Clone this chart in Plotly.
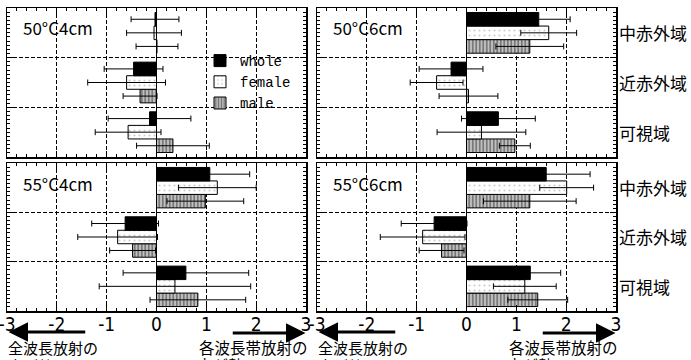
import plotly.graph_objects as go

# ---------------- data ----------------
regions = ["可視域", "近赤外域", "中赤外域"]          # bottom -> top
panels = ["50°C4cm", "50°C6cm", "55°C4cm", "55°C6cm"]
series = ["male", "female", "whole"]                   # bottom -> top inside a group

whole_50_4 = [-0.14, -0.46, -0.03]
whole_50_4_err = [0.83, 0.59, 0.48]
female_50_4 = [-0.57, -0.60, -0.05]
female_50_4_err = [0.66, 0.78, 0.55]
male_50_4 = [0.33, -0.33, 0.01]
male_50_4_err = [0.73, 0.34, 0.42]

whole_50_6 = [0.64, -0.31, 1.45]
whole_50_6_err = [0.74, 0.64, 0.63]
female_50_6 = [0.30, -0.60, 1.65]
female_50_6_err = [0.89, 0.53, 0.56]
male_50_6 = [0.97, 0.04, 1.27]
male_50_6_err = [0.31, 0.59, 0.68]

whole_55_4 = [0.59, -0.63, 1.07]
whole_55_4_err = [1.26, 0.67, 0.80]
female_55_4 = [0.37, -0.78, 1.22]
female_55_4_err = [1.52, 0.80, 0.78]
male_55_4 = [0.83, -0.48, 0.98]
male_55_4_err = [0.96, 0.46, 0.77]

whole_55_6 = [1.28, -0.65, 1.60]
whole_55_6_err = [0.61, 0.66, 0.88]
female_55_6 = [1.17, -0.88, 2.01]
female_55_6_err = [0.63, 0.85, 0.54]
male_55_6 = [1.43, -0.50, 1.27]
male_55_6_err = [0.60, 0.45, 0.93]

x_ticks = [-3, -2, -1, 0, 1, 2, 3]
x_tick_labels = ["-3", "-2", "-1", "0", "1", "2", "3"]
left_note = ["全波長放射の", "方が勢い"]
right_note = ["各波長帯放射の", "方が勢い"]

panel_data = {
    "50°C4cm": {"whole": (whole_50_4, whole_50_4_err), "female": (female_50_4, female_50_4_err), "male": (male_50_4, male_50_4_err)},
    "50°C6cm": {"whole": (whole_50_6, whole_50_6_err), "female": (female_50_6, female_50_6_err), "male": (male_50_6, male_50_6_err)},
    "55°C4cm": {"whole": (whole_55_4, whole_55_4_err), "female": (female_55_4, female_55_4_err), "male": (male_55_4, male_55_4_err)},
    "55°C6cm": {"whole": (whole_55_6, whole_55_6_err), "female": (female_55_6, female_55_6_err), "male": (male_55_6, male_55_6_err)},
}

# ---------------- styles ----------------
W, H = 691, 360
NUM_FONT = "DejaVu Sans Condensed, Liberation Sans Narrow, sans-serif"
JP_FONT = "Noto Sans CJK JP, sans-serif"
MONO_FONT = "Liberation Mono, DejaVu Sans Mono, monospace"

styles = {
    "whole": dict(color="black", line=dict(color="black", width=1)),
    "female": dict(color="white", line=dict(color="black", width=1),
                   pattern=dict(shape=".", fgcolor="#999999", bgcolor="white", size=5, solidity=0.15)),
    "male": dict(color="#bbbbbb", line=dict(color="black", width=1),
                 pattern=dict(shape="|", fgcolor="#222222", bgcolor="#c0c0c0", size=3.5, solidity=0.45)),
}

# pixel geometry of panels
x_doms = [(7, 306), (317, 616)]
y_doms = [(8, 157), (163, 311)]

def px_x(p):
    return p / W

def px_y(p):
    return 1 - p / H

fig = go.Figure()
ypos = list(range(len(regions)))

for i, pname in enumerate(panels):
    n = "" if i == 0 else str(i + 1)
    for s in series:
        vals, errs = panel_data[pname][s]
        fig.add_trace(go.Bar(
            x=vals, y=ypos, orientation="h", name=s,
            marker=styles[s],
            error_x=dict(type="data", array=errs, visible=True, color="black", thickness=1, width=3),
            xaxis="x" + n, yaxis="y" + n,
            showlegend=(i == 0),
        ))

axis_common = dict(
    showline=True, linecolor="black", linewidth=1.5, mirror="ticks",
    ticks="inside", tickcolor="black", tickwidth=1, automargin=False,
)

for i, pname in enumerate(panels):
    n = "" if i == 0 else str(i + 1)
    col, row = i % 2, i // 2
    xd = x_doms[col]
    yd = y_doms[row]
    fig.update_layout(**{
        "xaxis" + n: dict(
            axis_common,
            domain=[px_x(xd[0]), px_x(xd[1])],
            anchor="y" + n,
            range=[-3, 3], tickvals=x_ticks, ticktext=x_tick_labels, ticklen=6,
            showticklabels=(row == 1), ticklabeloverflow="allow", ticklabelstandoff=-4,
            tickfont=dict(family=NUM_FONT, size=19, color="black"),
            showgrid=True, gridcolor="black", gridwidth=1, griddash="4px,2px",
            zeroline=True, zerolinecolor="black", zerolinewidth=1,
            minor=dict(dtick=0.2, ticklen=3, ticks="inside", tickcolor="black", showgrid=False),
            fixedrange=True,
        ),
        "yaxis" + n: dict(
            axis_common,
            domain=[px_y(yd[1]), px_y(yd[0])],
            anchor="x" + n,
            range=[-0.5, len(regions) - 0.5],
            tickvals=[k + 0.5 for k in ypos[:-1]], ticklen=6,
            showticklabels=False,
            showgrid=True, gridcolor="black", gridwidth=1, griddash="4px,2px",
            zeroline=False,
            minor=dict(tick0=-0.5, dtick=1 / 12, ticklen=3, ticks="inside", tickcolor="black", showgrid=False),
            fixedrange=True,
        ),
    })

annotations = []
# panel titles
for i, pname in enumerate(panels):
    col, row = i % 2, i // 2
    annotations.append(dict(
        text=pname, xref="paper", yref="paper",
        x=px_x(x_doms[col][0] + 14), y=px_y(y_doms[row][0] + 20),
        xanchor="left", yanchor="middle", showarrow=False,
        font=dict(family=JP_FONT, size=17, color="black"),
    ))
# region labels right of right panels
for i in (1, 3):
    n = str(i + 1)
    for k, r in enumerate(regions):
        annotations.append(dict(
            text=r, xref="paper", yref="y" + n, x=px_x(617), y=ypos[k],
            xanchor="left", yanchor="middle", showarrow=False,
            font=dict(family=JP_FONT, size=17, color="black"),
        ))
# arrows and notes under bottom panels
for i in (2, 3):
    n = str(i + 1)
    annotations.append(dict(
        xref="x" + n, yref="paper", axref="x" + n, ayref="pixel",
        x=-2.97, y=px_y(332), ax=-1.4, ay=0, text="", showarrow=True,
        arrowhead=2, arrowsize=1.3, arrowwidth=3, arrowcolor="black",
    ))
    annotations.append(dict(
        xref="x" + n, yref="paper", axref="x" + n, ayref="pixel",
        x=2.99, y=px_y(333), ax=1.5, ay=0, text="", showarrow=True,
        arrowhead=2, arrowsize=1.3, arrowwidth=3, arrowcolor="black",
    ))
    for li, y_line in enumerate((347, 365)):
        annotations.append(dict(
            text=left_note[li], xref="x" + n, yref="paper", x=-3.0, y=px_y(y_line),
            xanchor="left", yanchor="middle", align="left", showarrow=False,
            font=dict(family=JP_FONT, size=15, color="black"), borderpad=0,
        ))
        annotations.append(dict(
            text=right_note[li],
            xref="x" + n, yref="paper",
            x=(3.0 if li == 0 else 0.8), y=px_y(y_line), xshift=(3 if li == 0 else 0),
            xanchor=("right" if li == 0 else "left"), yanchor="middle", align="left", showarrow=False,
            font=dict(family=JP_FONT, size=15.5, color="black"), borderpad=0,
        ))

fig.update_layout(
    width=W, height=H,
    margin=dict(l=0, r=0, t=0, b=0, autoexpand=False),
    paper_bgcolor="white", plot_bgcolor="white",
    barmode="group", bargap=0.18, bargroupgap=0,
    annotations=annotations,
    showlegend=True,
    legend=dict(
        x=px_x(200), y=px_y(45), xanchor="left", yanchor="top",
        traceorder="reversed", bgcolor="rgba(0,0,0,0)",
        font=dict(family=MONO_FONT, size=14, color="black"),
        tracegroupgap=0, itemwidth=30,
    ),
)

fig.write_html(
    "out.html",
    config={"displayModeBar": False, "staticPlot": True},
    post_script="document.body.style.margin='0';document.body.style.overflow='hidden';",
)
